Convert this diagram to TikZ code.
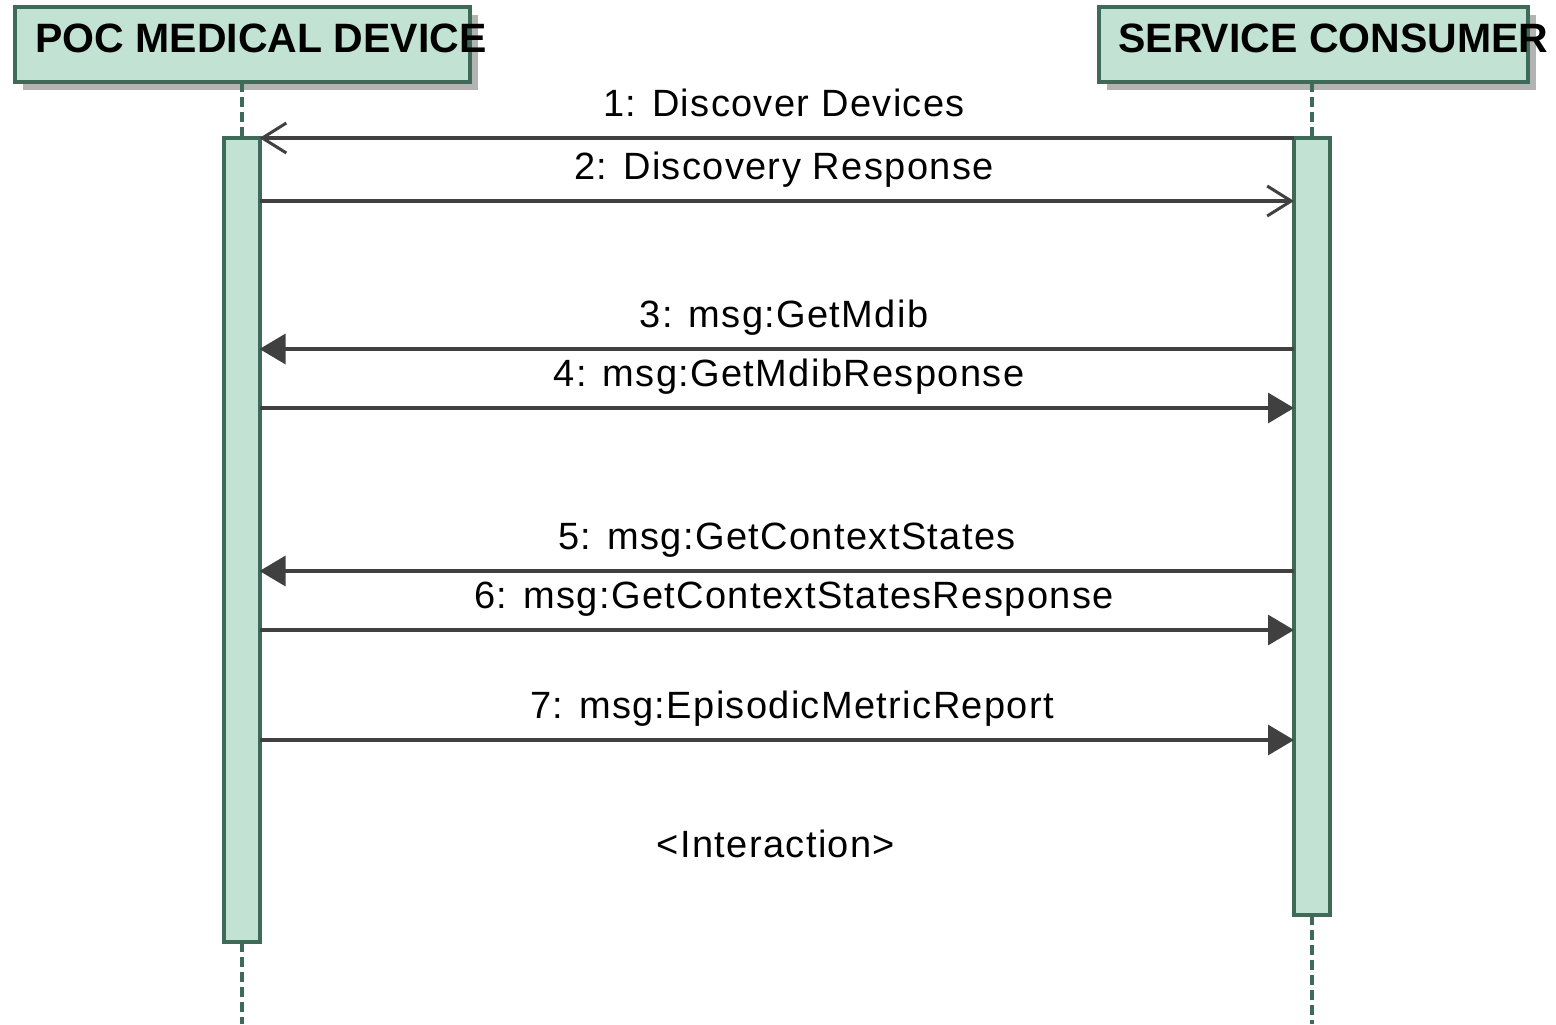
\documentclass[tikz,border=0pt]{standalone}
\usepackage{fontspec}
\setmainfont{Liberation Sans}
\newfontfamily\lblfont[LetterSpace=3.6]{Liberation Sans}
\usetikzlibrary{arrows.meta}
\definecolor{actfill}{HTML}{C2E2D4}
\definecolor{actborder}{HTML}{3E6B57}
\definecolor{shadowgray}{HTML}{B3B3B3}
\definecolor{msgline}{HTML}{404040}
\tikzset{
  headbox/.style={draw=actborder, fill=actfill, line width=2pt, inner sep=0pt, outer sep=0pt,
    minimum width=#1, minimum height=37.5pt, anchor=north west},
  headshadow/.style={fill=shadowgray},
  headtitle/.style={font=\fontsize{20.5}{24}\selectfont\bfseries, inner sep=0pt, anchor=base west},
  actbar/.style={draw=actborder, fill=actfill, line width=2pt, inner sep=0pt, outer sep=0pt,
    minimum width=18pt},
  lifeline/.style={draw=actborder, line width=2pt, dash pattern=on 5pt off 2.5pt},
  msg/.style={draw=msgline, line width=1.6pt},
  openmsg/.style={msg, -{Straight Barb[length=12pt, width=15pt, line width=1.5pt]}},
  syncmsg/.style={msg, -{Triangle[length=13pt, width=15pt]}},
  lbl/.style={font=\lblfont\fontsize{19}{23}\selectfont, inner sep=0pt, anchor=base}
}
\begin{document}
\begin{tikzpicture}[x=0.5pt, y=-0.5pt]
\useasboundingbox (0,0) rectangle (1556,1024);
% header shadows
\fill[headshadow] (23,15) rectangle (478,90);
\fill[headshadow] (1107,15) rectangle (1536,90);
% header boxes
\node[headbox=227.5pt] (pocbox) at (15,7) {};
\node[headbox=214.5pt] (scbox) at (1099,7) {};
\node[headtitle] (poctitle) at (35,52) {POC MEDICAL DEVICE};
\node[headtitle] (sctitle) at (1118,52) {SERVICE CONSUMER};
% activation bars
\node[actbar, minimum height=402pt] (actL) at (241.5,540) {};
\node[actbar, minimum height=388.5pt] (actR) at (1312,526.5) {};
\coordinate (bot) at (0,1024);
% lifelines
\draw[lifeline] (actL.north |- pocbox.south) -- (actL.north);
\draw[lifeline] (actR.north |- scbox.south) -- (actR.north);
\draw[lifeline] (actL.south) -- (actL.south |- bot);
\draw[lifeline] (actR.south) -- (actR.south |- bot);
% message levels
\coordinate (y1) at (0,138);
\coordinate (y2) at (0,201);
\coordinate (y3) at (0,349);
\coordinate (y4) at (0,408);
\coordinate (y5) at (0,571);
\coordinate (y6) at (0,630);
\coordinate (y7) at (0,740);
% messages
\draw[openmsg] (actR.west |- y1) -- (actL.east |- y1);
\draw[openmsg] (actL.east |- y2) -- (actR.west |- y2);
\draw[syncmsg] (actR.west |- y3) -- (actL.east |- y3);
\draw[syncmsg] (actL.east |- y4) -- (actR.west |- y4);
\draw[syncmsg] (actR.west |- y5) -- (actL.east |- y5);
\draw[syncmsg] (actL.east |- y6) -- (actR.west |- y6);
\draw[syncmsg] (actL.east |- y7) -- (actR.west |- y7);
% labels
\node[lbl] (l1) at (784,116) {1: Discover Devices};
\node[lbl] (l2) at (784,179) {2: Discovery Response};
\node[lbl] (l3) at (784,327) {3: msg:GetMdib};
\node[lbl] (l4) at (789,386) {4: msg:GetMdibResponse};
\node[lbl] (l5) at (787,549) {5: msg:GetContextStates};
\node[lbl] (l6) at (794,608) {6: msg:GetContextStatesResponse};
\node[lbl] (l7) at (792,718) {7: msg:EpisodicMetricReport};
\node[lbl] (inter) at (776,857) {<Interaction>};
\end{tikzpicture}
\end{document}
